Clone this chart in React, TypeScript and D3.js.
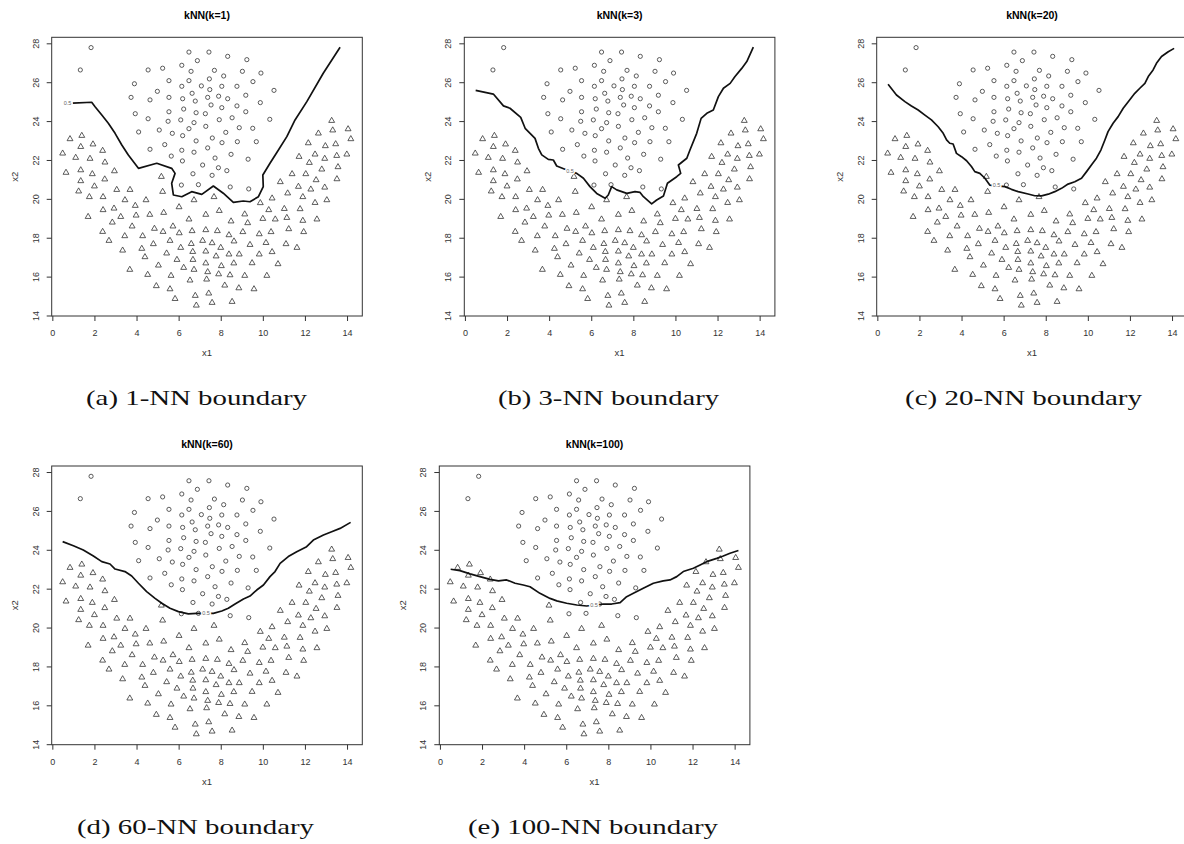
import React, { useRef, useEffect } from 'react';
import * as d3 from 'd3';

// class "o" points (x1, x2)
const circles: [number, number][] = [
  [1.84, 27.78], [1.33, 26.63], [4.55, 26.63], [5.24, 26.72], [3.90, 25.92], [5.54, 26.08], [4.99, 25.53], [3.74, 25.22], [4.64, 25.09], [5.54, 25.22],
  [3.94, 24.38], [4.55, 24.12], [5.54, 24.48], [4.10, 23.44], [5.08, 23.54], [5.50, 23.99], [5.70, 23.37], [5.34, 22.79], [4.64, 22.55], [5.65, 22.20],
  [6.49, 27.55], [6.89, 27.11], [6.15, 26.87], [6.59, 26.56], [6.49, 26.08], [6.15, 25.79], [6.64, 25.43], [6.19, 25.15], [6.79, 25.03], [6.24, 24.62],
  [6.83, 24.43], [6.10, 24.06], [6.73, 23.92], [6.49, 23.61], [6.19, 23.25], [6.83, 22.98], [6.15, 22.50], [6.73, 22.40],
  [7.44, 27.55], [8.33, 27.33], [9.24, 27.16], [7.70, 26.61], [9.03, 26.56], [9.91, 26.47], [7.46, 26.17], [8.14, 26.32], [9.53, 26.03], [7.08, 25.81],
  [7.48, 25.62], [8.05, 25.79], [8.77, 25.79], [10.53, 25.58], [7.38, 25.22], [7.90, 25.28], [8.33, 25.15], [9.19, 25.33], [9.88, 24.95], [7.54, 24.83],
  [8.05, 24.69], [8.77, 24.78], [7.27, 24.38], [7.93, 24.07], [8.54, 24.17], [9.19, 24.48], [10.33, 24.09], [7.29, 23.73], [8.24, 23.42], [8.88, 23.66],
  [9.52, 23.63], [7.60, 23.13], [8.06, 22.89], [8.79, 22.94], [9.69, 22.94], [7.38, 22.62], [7.73, 22.10], [8.49, 22.29], [9.30, 22.04],
  [6.18, 21.95], [6.68, 21.29], [6.13, 20.71], [6.94, 20.73], [7.14, 21.74], [7.89, 21.60], [8.29, 21.45], [7.59, 21.21], [8.45, 20.61], [9.33, 20.51],
];

// class "triangle" points (x1, x2)
const triangles: [number, number][] = [
  [0.84, 23.08], [1.40, 23.25], [1.35, 22.68], [1.93, 22.81], [2.39, 22.48], [0.49, 22.34], [1.11, 22.12], [1.79, 22.07],
  [13.27, 24.02], [12.64, 23.37], [13.32, 23.53], [14.05, 23.59], [12.16, 22.87], [12.97, 22.72], [13.46, 22.82], [11.72, 22.17], [12.48, 22.29],
  [12.94, 22.07], [13.51, 22.22], [13.99, 22.29], [14.18, 23.08],
  [2.50, 21.88], [0.65, 21.35], [1.35, 21.48], [1.90, 21.28], [2.95, 21.43], [5.18, 21.14], [1.35, 20.92], [2.49, 21.01], [1.25, 20.39], [2.00, 20.65],
  [3.06, 20.47], [3.69, 20.47], [5.24, 20.37], [1.76, 20.10], [2.41, 20.10], [3.45, 19.94], [4.45, 19.94], [6.73, 19.94], [3.94, 19.65], [6.02, 19.58],
  [2.41, 19.43], [2.93, 19.51], [1.70, 19.08], [3.25, 19.08], [3.98, 19.15], [4.63, 19.19], [5.29, 19.29], [6.49, 18.95], [2.85, 18.79], [3.79, 18.59],
  [4.85, 18.47], [5.26, 18.31], [5.73, 18.59], [6.03, 18.24], [6.64, 18.35], [2.39, 18.31], [3.44, 18.09], [4.29, 18.09], [2.69, 17.85], [4.80, 17.68],
  [5.59, 17.85], [6.60, 17.69], [3.34, 17.35], [4.25, 17.44], [5.43, 17.20], [6.10, 17.49], [6.67, 17.28], [4.40, 17.01], [5.92, 16.87], [6.68, 16.87],
  [5.04, 16.58], [6.24, 16.46], [6.73, 16.36], [3.68, 16.36], [4.53, 16.10], [5.64, 16.05], [6.54, 15.81], [4.94, 15.52], [5.59, 15.36], [5.83, 14.86],
  [6.79, 15.02], [6.84, 14.52],
  [12.21, 21.86], [13.57, 21.64], [12.80, 21.52], [11.39, 21.28], [12.04, 21.28], [12.53, 20.97], [13.52, 21.02], [10.83, 20.87], [11.69, 20.63], [12.28, 20.49],
  [12.94, 20.59], [11.18, 20.29], [11.90, 20.10], [13.04, 19.94], [12.48, 19.80], [7.68, 20.10], [10.44, 20.03], [9.88, 19.79], [10.28, 19.43], [11.02, 19.49],
  [11.77, 19.48], [7.29, 19.19], [7.93, 19.39], [9.14, 19.21], [10.00, 18.98], [10.59, 18.95], [11.14, 19.03], [11.90, 18.88], [12.57, 18.95], [8.49, 18.85],
  [9.28, 18.76], [7.29, 18.40], [7.84, 18.35], [8.39, 18.14], [9.05, 18.30], [9.83, 18.19], [10.39, 18.30], [11.23, 18.45], [11.94, 18.30], [7.14, 17.85],
  [7.59, 17.73], [8.63, 17.82], [9.39, 17.64], [10.15, 17.74], [11.10, 17.68], [11.62, 17.49], [8.00, 17.49], [7.29, 17.30], [7.78, 17.05], [8.39, 17.15],
  [8.88, 17.15], [9.83, 17.15], [10.44, 17.27], [7.29, 16.69], [8.03, 16.55], [8.62, 16.69], [9.49, 16.70], [10.72, 16.65], [7.38, 16.24], [7.90, 16.13],
  [8.44, 16.08], [9.14, 16.05], [10.19, 16.05], [7.33, 15.86], [8.19, 15.55], [8.86, 15.41], [9.58, 15.36], [7.43, 15.14], [8.54, 14.71], [7.59, 14.66],
];

// 0.5 contour of each kNN fit
const boundaryK1: [number, number][] = [
  [0.97, 24.92], [1.87, 24.97], [2.03, 24.74], [2.35, 24.31], [2.66, 23.89], [2.98, 23.37], [3.30, 22.77], [3.61, 22.26], [4.09, 21.57],
  [4.96, 21.83], [5.67, 21.57], [5.83, 21.31], [5.67, 20.80], [5.75, 20.20], [6.15, 20.11], [6.62, 20.37], [7.10, 20.23], [7.65, 20.66],
  [8.12, 20.29], [8.60, 19.82], [9.07, 19.89], [9.39, 19.85], [9.79, 20.11], [10.02, 20.63], [10.0, 21.23], [10.34, 21.83], [10.68, 22.41],
  [11.14, 23.20], [11.53, 24.06], [12.09, 25.0], [12.87, 26.46], [13.67, 27.80],
];
const boundaryK3: [number, number][] = [
  [0.51, 25.58], [1.35, 25.39], [1.83, 24.78], [2.14, 24.66], [2.65, 24.19], [2.86, 23.63], [3.33, 23.11], [3.49, 22.60], [3.65, 22.26],
  [3.96, 22.03], [4.20, 22.0], [4.36, 21.69], [4.84, 21.48], [5.31, 21.31], [5.63, 21.06], [5.94, 20.63], [6.26, 20.28], [6.66, 20.03],
  [6.81, 20.20], [6.97, 20.63], [7.21, 20.46], [7.69, 20.28], [8.08, 20.37], [8.32, 20.33], [8.48, 20.11], [8.87, 19.74], [9.11, 19.94],
  [9.43, 20.15], [9.62, 20.80], [10.06, 21.14], [10.25, 21.31], [10.14, 21.74], [10.54, 22.09], [10.69, 22.51], [11.01, 23.37], [11.22, 24.14],
  [11.49, 24.40], [11.80, 24.57], [12.04, 25.26], [12.28, 25.69], [12.60, 25.94], [12.83, 26.29], [13.15, 26.71], [13.39, 27.06], [13.70, 27.80],
];
const boundaryK20: [number, number][] = [
  [0.51, 25.89], [0.91, 25.34], [1.31, 25.0], [1.62, 24.78], [1.94, 24.57], [2.26, 24.31], [2.57, 24.06], [2.89, 23.71], [3.13, 23.37],
  [3.29, 23.03], [3.44, 22.86], [3.60, 22.82], [3.76, 22.34], [4.00, 22.17], [4.24, 21.96], [4.47, 21.66], [4.63, 21.40], [4.87, 21.31],
  [5.11, 21.06], [5.34, 20.71], [6.06, 20.63], [6.37, 20.49], [6.69, 20.37], [7.16, 20.25], [7.48, 20.16], [7.80, 20.15], [8.12, 20.24],
  [8.43, 20.37], [8.75, 20.54], [9.06, 20.76], [9.38, 20.88], [9.70, 21.06], [9.94, 21.40], [10.17, 21.74], [10.41, 22.09], [10.62, 22.51],
  [10.81, 23.03], [10.96, 23.46], [11.20, 23.89], [11.44, 24.23], [11.68, 24.66], [11.92, 25.0], [12.23, 25.43], [12.47, 25.69], [12.71, 25.94],
  [12.87, 26.29], [13.10, 26.63], [13.26, 26.97], [13.50, 27.32], [13.82, 27.57], [14.10, 27.74],
];
const boundaryK60: [number, number][] = [
  [0.49, 24.42], [1.0, 24.21], [1.47, 23.99], [1.95, 23.68], [2.35, 23.39], [2.74, 23.27], [2.98, 23.01], [3.45, 22.88], [3.77, 22.65],
  [4.09, 22.28], [4.48, 21.85], [4.88, 21.50], [5.20, 21.25], [5.59, 20.99], [5.99, 20.82], [6.46, 20.70], [6.86, 20.73], [7.65, 20.73],
  [8.05, 20.85], [8.36, 20.99], [8.68, 21.21], [9.08, 21.47], [9.39, 21.62], [9.71, 21.93], [10.03, 22.19], [10.34, 22.62], [10.58, 22.88],
  [10.82, 23.30], [11.21, 23.65], [11.61, 23.90], [12.08, 24.16], [12.40, 24.50], [12.88, 24.76], [13.27, 24.93], [13.67, 25.10], [14.17, 25.41],
];
const boundaryK100: [number, number][] = [
  [0.51, 23.0], [0.95, 22.93], [1.43, 22.76], [1.90, 22.62], [2.38, 22.48], [2.78, 22.40], [3.17, 22.45], [3.57, 22.28], [3.96, 22.19],
  [4.28, 22.10], [4.75, 21.76], [5.23, 21.50], [5.55, 21.37], [6.02, 21.25], [6.50, 21.16], [6.97, 21.11], [7.76, 21.21], [8.16, 21.21],
  [8.56, 21.28], [8.87, 21.59], [9.19, 21.76], [9.66, 22.02], [10.14, 22.28], [10.61, 22.40], [10.93, 22.45], [11.25, 22.62], [11.56, 22.88],
  [12.04, 23.05], [12.36, 23.22], [12.67, 23.39], [13.15, 23.56], [13.46, 23.68], [13.78, 23.82], [14.18, 23.96],
];

// where the contour label "0.5" sits on each line
const labelK1: [number, number] = [0.72, 24.93];
const labelK3: [number, number] = [4.99, 21.43];
const labelK20: [number, number] = [5.66, 20.70];
const labelK60: [number, number] = [7.30, 20.74];
const labelK100: [number, number] = [7.32, 21.15];

const kValues = [1, 3, 20, 60, 100];
const captions = ['(a) 1-NN boundary', '(b) 3-NN boundary', '(c) 20-NN boundary', '(d) 60-NN boundary', '(e) 100-NN boundary'];
const xTicks = [0, 2, 4, 6, 8, 10, 12, 14];
const yTicks = [14, 16, 18, 20, 22, 24, 26, 28];

const PANEL_W = 310.6;
const PANEL_H = 278.7;
const SANS = 'Liberation Sans, Arial, Helvetica, sans-serif';

const panels = [
  { line: boundaryK1, label: labelK1, left: 51.7, top: 37.3, capX: 86, capW: 221 },
  { line: boundaryK3, label: labelK3, left: 464.3, top: 37.3, capX: 498, capW: 221 },
  { line: boundaryK20, label: labelK20, left: 876.7, top: 37.3, capX: 905, capW: 237 },
  { line: boundaryK60, label: labelK60, left: 51.7, top: 466, capX: 77, capW: 237 },
  { line: boundaryK100, label: labelK100, left: 439.3, top: 466, capX: 468, capW: 250 },
];

export default function App() {
  const svgRef = useRef<SVGSVGElement>(null);

  useEffect(() => {
    if (!svgRef.current) return;
    const svg = d3.select(svgRef.current);
    svg.selectAll('*').remove();

    const x = d3.scaleLinear().domain([-0.03, 14.725]).range([0, PANEL_W]);
    const y = d3.scaleLinear().domain([13.974, 28.31]).range([PANEL_H, 0]);
    const line = d3.line<[number, number]>().x(d => x(d[0])).y(d => y(d[1]));
    const tri = d3.symbol().type(d3.symbolTriangle).size(15);

    panels.forEach((p, i) => {
      const g = svg.append('g').attr('transform', `translate(${p.left},${p.top})`);

      // x axis
      const xa = g.append('g')
        .attr('transform', `translate(0,${PANEL_H})`)
        .call(d3.axisBottom(x).tickValues(xTicks).tickSize(5).tickFormat(d3.format('d')));
      xa.select('.domain').remove();
      xa.selectAll('line').attr('stroke', '#333');
      xa.selectAll('text')
        .attr('y', 17).attr('dy', '0.35em')
        .attr('font-size', 9).attr('font-family', SANS).attr('fill', '#333');

      // y axis, labels turned like R's las=0
      const ya = g.append('g')
        .call(d3.axisLeft(y).tickValues(yTicks).tickSize(5).tickFormat(d3.format('d')));
      ya.select('.domain').remove();
      ya.selectAll('line').attr('stroke', '#333');
      ya.selectAll('text')
        .attr('x', null).attr('dy', null)
        .attr('text-anchor', 'middle')
        .attr('dominant-baseline', 'central')
        .attr('transform', 'translate(-16,0) rotate(-90)')
        .attr('font-size', 9).attr('font-family', SANS).attr('fill', '#333');

      // plot box
      g.append('rect')
        .attr('width', PANEL_W).attr('height', PANEL_H)
        .attr('fill', 'none').attr('stroke', '#333').attr('stroke-width', 1);

      g.append('text')
        .attr('x', PANEL_W / 2).attr('y', -18.5)
        .attr('text-anchor', 'middle')
        .attr('font-size', 10.5).attr('font-weight', 'bold').attr('font-family', SANS)
        .text(`kNN(k=${kValues[i]})`);

      g.append('text')
        .attr('x', PANEL_W / 2).attr('y', PANEL_H + 37).attr('dy', '0.35em')
        .attr('text-anchor', 'middle')
        .attr('font-size', 9.5).attr('font-family', SANS).attr('fill', '#333')
        .text('x1');

      g.append('text')
        .attr('transform', `translate(-37,${PANEL_H / 2}) rotate(-90)`)
        .attr('text-anchor', 'middle').attr('dominant-baseline', 'central')
        .attr('font-size', 9.5).attr('font-family', SANS).attr('fill', '#333')
        .text('x2');

      // points
      g.selectAll('circle.pt')
        .data(circles)
        .enter()
        .append('circle')
        .attr('class', 'pt')
        .attr('cx', d => x(d[0]))
        .attr('cy', d => y(d[1]))
        .attr('r', 2.1)
        .attr('fill', 'none')
        .attr('stroke', '#333')
        .attr('stroke-width', 0.8);

      g.selectAll('path.tri')
        .data(triangles)
        .enter()
        .append('path')
        .attr('class', 'tri')
        .attr('d', tri as any)
        .attr('transform', d => `translate(${x(d[0])},${y(d[1])})`)
        .attr('fill', 'none')
        .attr('stroke', '#333')
        .attr('stroke-width', 0.8);

      // decision boundary
      g.append('path')
        .datum(p.line)
        .attr('d', line)
        .attr('fill', 'none')
        .attr('stroke', '#111')
        .attr('stroke-width', 1.7)
        .attr('stroke-linejoin', 'round');

      g.append('text')
        .attr('x', x(p.label[0])).attr('y', y(p.label[1]))
        .attr('text-anchor', 'middle').attr('dominant-baseline', 'central')
        .attr('font-size', 5.5).attr('font-family', SANS).attr('fill', '#666')
        .attr('stroke', '#fff').attr('stroke-width', 3).attr('paint-order', 'stroke')
        .text('0.5');

      // subfigure caption
      svg.append('text')
        .attr('x', p.capX).attr('y', p.top + PANEL_H + 89)
        .attr('textLength', p.capW).attr('lengthAdjust', 'spacingAndGlyphs')
        .attr('font-size', 21).attr('font-family', 'Liberation Serif, DejaVu Serif, serif')
        .attr('fill', '#111')
        .text(captions[i]);
    });
  }, []);

  return (
    <svg
      ref={svgRef}
      width={1184}
      height={844}
      style={{ position: 'absolute', left: 0, top: 0, background: '#fff' }}
    />
  );
}
